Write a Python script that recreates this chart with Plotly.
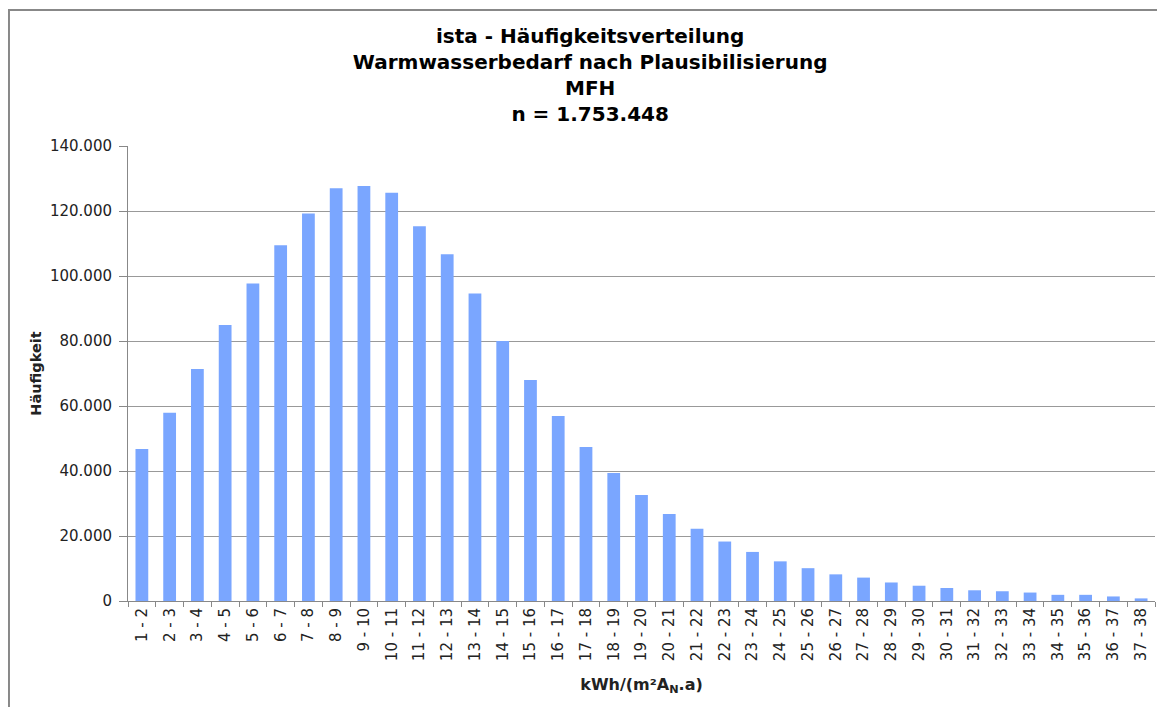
import plotly.graph_objects as go

# Klassen (kWh/(m²A_N.a)) und Häufigkeiten
klassen = ["%d - %d" % (i, i + 1) for i in range(1, 38)]
haeufigkeit = [
    46800, 57900, 71400, 84900, 97700, 109500, 119200, 127000, 127700, 125600,
    115300, 106700, 94600, 80000, 68000, 56900, 47400, 39400, 32600, 26800,
    22200, 18300, 15100, 12200, 10100, 8200, 7200, 5700, 4700, 4000,
    3300, 3000, 2600, 1900, 1900, 1400, 800,
]
y_ticks = [0, 20000, 40000, 60000, 80000, 100000, 120000, 140000]
y_labels = ["0", "20.000", "40.000", "60.000", "80.000", "100.000", "120.000", "140.000"]

font = "DejaVu Sans, Verdana, sans-serif"

data = [go.Bar(
    x=klassen,
    y=haeufigkeit,
    marker=dict(color="rgb(122,166,255)", line=dict(width=0)),
)]

# the page body has an 8px margin, so the margins are shifted by that
layout = go.Layout(
    width=1165,
    height=707,
    margin=dict(l=120, r=18, t=138, b=114),
    paper_bgcolor="white",
    plot_bgcolor="white",
    font=dict(family=font, size=14, color="#222"),
    showlegend=False,
    bargap=0.54,
    title=dict(
        text="<b>ista - Häufigkeitsverteilung<br>Warmwasserbedarf nach Plausibilisierung"
             "<br>MFH<br>n = 1.753.448</b>",
        x=0.45, xref="paper", xanchor="center",
        y=0.951, yref="container", yanchor="top",
        font=dict(family=font, size=20, color="black"),
    ),
    xaxis=dict(
        type="category",
        tickangle=-90,
        ticks="outside",
        tickson="boundaries",
        ticklen=5,
        tickcolor="#888",
        showline=True,
        linecolor="#888",
        linewidth=1,
        showgrid=False,
        tickfont=dict(size=15, color="#222"),
        title=dict(text="<b>kWh/(m²A<sub>N</sub>.a)</b>", standoff=18,
                   font=dict(size=16, color="#222")),
    ),
    yaxis=dict(
        range=[0, 140000],
        tickvals=y_ticks,
        ticktext=y_labels,
        ticks="outside",
        ticklen=8,
        tickcolor="#888",
        ticklabelstandoff=4,
        showline=True,
        linecolor="#888",
        linewidth=1,
        showgrid=True,
        gridcolor="#999",
        gridwidth=1,
        zeroline=False,
        tickfont=dict(size=15, color="#222"),
        title=dict(text="<b>Häufigkeit</b>", standoff=4,
                   font=dict(size=14.5, color="#222")),
    ),
    shapes=[dict(
        type="rect", xref="paper", yref="paper",
        x0=-0.1159, x1=1.2, y0=-0.5, y1=1.299,
        line=dict(color="#888", width=2), fillcolor="rgba(0,0,0,0)",
        layer="below",
    )],
)

fig = go.Figure(data=data, layout=layout)
fig.write_html("out.html")
